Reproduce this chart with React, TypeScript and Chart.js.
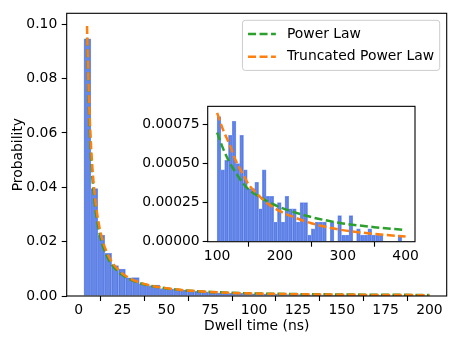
import React, { useEffect, useRef } from "react";
import { Chart, registerables } from "chart.js";
Chart.register(...registerables);

const FONT = "'DejaVu Sans', sans-serif";
const FS = 13.9;
const GREEN = "#2ca02c";
const ORANGE = "#ff7f0e";
const BAR_FILL = "rgba(65,105,225,0.8)";
const BAR_EDGE = "rgba(128,158,238,1)";

// ---------- main histogram ----------
const MAIN_BIN_START = 3;
const MAIN_BIN_WIDTH = 3.94;
const mainBarValues = [
  0.0946, 0.0395, 0.0223, 0.0157, 0.0112, 0.0099, 0.0067, 0.0068, 0.0045, 0.0038,
  0.004, 0.0027, 0.0026, 0.0024, 0.0022, 0.002, 0.0017, 0.0015, 0.0013, 0.0012,
  0.0011, 0.001, 0.001, 0.0008, 0.0008, 0.0007, 0.0007, 0.0006, 0.0006, 0.0005,
  0.0006, 0.0005, 0.0004, 0.0005, 0.0004, 0.0004, 0.0003, 0.0004, 0.0003, 0.0003,
  0.0003, 0.0002, 0.0003, 0.0002, 0.0002, 0.0003, 0.0002, 0.0002, 0.0002, 0.0002,
];
const mainCurveX = [4.75, 5, 6, 7, 8, 9, 10, 12, 14, 16, 18, 20, 25, 30, 35, 40, 50, 60, 75, 100, 125, 150, 175, 200];
const mainPowerLaw = [
  0.095, 0.088, 0.066, 0.0515, 0.0418, 0.035, 0.0298, 0.0226, 0.018, 0.0148, 0.0124, 0.0106,
  0.0077, 0.0059, 0.0047, 0.0039, 0.0028, 0.0021, 0.0015, 0.00095, 0.0007, 0.00055, 0.00045, 0.00037,
];
const mainTruncated = [
  0.0993, 0.0919, 0.0699, 0.0555, 0.0454, 0.0381, 0.0325, 0.0247, 0.0196, 0.0161, 0.01346, 0.0115,
  0.0082, 0.0062, 0.0049, 0.004, 0.0029, 0.0021, 0.0015, 0.0009, 0.00065, 0.00048, 0.00037, 0.0003,
];
const mainXTicks = [0, 25, 50, 75, 100, 125, 150, 175, 200];
const mainYTicks = [0, 0.02, 0.04, 0.06, 0.08, 0.1];

// ---------- inset histogram ----------
const INSET_BIN_START = 100;
const INSET_BIN_WIDTH = 6;
const insetBarValues = [
  0.0008, 0.00046, 0.00052, 0.00068, 0.00077, 0.0005, 0.00068, 0.00046, 0.00034, 0.00034,
  0.00038, 0.00021, 0.00046, 0.00029, 0.00029, 0.000125, 0.00025, 0.000125, 0.00029, 0.00021,
  0.00021, 0.000125, 0.00025, 0.00025, 0.000042, 0.000083, 0.000125, 0.000125, 0.000125, 0,
  0.000125, 0, 0.000167, 0.000042, 0.000042, 0.000167, 0, 0.000083, 0.000042, 0.000042,
  0.000083, 0.000042, 0.000042, 0.000042, 0, 0, 0, 0, 0.000042, 0,
];
const insetCurveX = [100, 110, 120, 130, 140, 150, 160, 170, 180, 200, 220, 250, 275, 300, 350, 400];
const insetPowerLaw = [
  0.000698, 0.00059, 0.000505, 0.00044, 0.00038, 0.000334, 0.000305, 0.00028, 0.000258, 0.00022,
  0.000192, 0.000157, 0.000135, 0.000117, 0.000093, 0.000075,
];
const insetTruncated = [
  0.000823, 0.00071, 0.00062, 0.000515, 0.00044, 0.000367, 0.00032, 0.00028, 0.000245, 0.000195,
  0.00016, 0.000118, 0.000093, 0.000074, 0.00005, 0.000033,
];
const insetXTicks = [100, 200, 300, 400];
const insetYTicks = [0, 0.00025, 0.0005, 0.00075];

const legendLabels = ["Power Law", "Truncated Power Law"];
const legendColors = [GREEN, ORANGE];

const font = { family: FONT, size: FS };

const framePlugin = {
  id: "mplFrame",
  beforeDraw(chart: any) {
    const opts = chart.options.plugins.mplFrame || {};
    if (opts.fillWhite) {
      const { ctx, chartArea: a } = chart;
      ctx.save();
      ctx.fillStyle = "#ffffff";
      ctx.fillRect(a.left, a.top, a.right - a.left, a.bottom - a.top);
      ctx.restore();
    }
  },
  afterDraw(chart: any) {
    const { ctx, chartArea: a } = chart;
    ctx.save();
    ctx.strokeStyle = "#000";
    ctx.lineWidth = 1.1;
    ctx.strokeRect(a.left, a.top, a.right - a.left, a.bottom - a.top);
    ctx.restore();
  },
};

const legendPlugin = {
  id: "mplLegend",
  afterDraw(chart: any) {
    const opts = chart.options.plugins.mplLegend || {};
    if (!opts.show) return;
    const { ctx, chartArea: a } = chart;
    ctx.save();
    ctx.font = `${FS}px ${FONT}`;
    const textW = Math.max(...legendLabels.map((l) => ctx.measureText(l).width));
    const pad = 5.6, rowH = 16, gap = 6.9, hLen = 27.8, hPad = 11.1;
    const w = pad * 2 + hLen + hPad + textW;
    const h = pad * 2 + rowH * 2 + gap;
    const right = a.right - 7;
    const top = a.top + 7;
    const left = right - w;
    const r = 2.8;
    ctx.beginPath();
    ctx.moveTo(left + r, top);
    ctx.lineTo(right - r, top);
    ctx.quadraticCurveTo(right, top, right, top + r);
    ctx.lineTo(right, top + h - r);
    ctx.quadraticCurveTo(right, top + h, right - r, top + h);
    ctx.lineTo(left + r, top + h);
    ctx.quadraticCurveTo(left, top + h, left, top + h - r);
    ctx.lineTo(left, top + r);
    ctx.quadraticCurveTo(left, top, left + r, top);
    ctx.closePath();
    ctx.fillStyle = "rgba(255,255,255,0.8)";
    ctx.fill();
    ctx.strokeStyle = "#cccccc";
    ctx.lineWidth = 1;
    ctx.stroke();
    legendLabels.forEach((label, i) => {
      const cy = top + pad + rowH / 2 + i * (rowH + gap);
      ctx.beginPath();
      ctx.setLineDash([8, 3.5]);
      ctx.strokeStyle = legendColors[i];
      ctx.lineWidth = 2.5;
      ctx.moveTo(left + pad, cy);
      ctx.lineTo(left + pad + hLen, cy);
      ctx.stroke();
      ctx.setLineDash([]);
      ctx.fillStyle = "#000";
      ctx.textBaseline = "middle";
      ctx.textAlign = "left";
      ctx.fillText(label, left + pad + hLen + hPad, cy);
    });
    ctx.restore();
  },
};

function axisGrid() {
  return {
    display: true,
    drawOnChartArea: false,
    drawTicks: true,
    tickLength: 5,
    tickWidth: 1.1,
    tickColor: "#000",
  };
}

function makeData(
  start: number,
  width: number,
  bars: number[],
  cx: number[],
  pl: number[],
  tpl: number[]
) {
  return {
    datasets: [
      {
        type: "bar" as const,
        data: bars.map((v, i) => ({ x: start + width * (i + 0.5), y: v })),
        backgroundColor: BAR_FILL,
        borderColor: BAR_EDGE,
        borderWidth: 0.8,
        barPercentage: 1,
        categoryPercentage: 1,
        order: 3,
      },
      {
        type: "line" as const,
        label: legendLabels[0],
        data: cx.map((x, i) => ({ x, y: pl[i] })),
        borderColor: GREEN,
        borderWidth: 2.5,
        borderDash: [8, 3.5],
        pointRadius: 0,
        fill: false,
        cubicInterpolationMode: "monotone" as const,
        order: 2,
      },
      {
        type: "line" as const,
        label: legendLabels[1],
        data: cx.map((x, i) => ({ x, y: tpl[i] })),
        borderColor: ORANGE,
        borderWidth: 2.5,
        borderDash: [8, 3.5],
        pointRadius: 0,
        fill: false,
        cubicInterpolationMode: "monotone" as const,
        order: 1,
      },
    ],
  };
}

export default function App() {
  const mainRef = useRef<HTMLCanvasElement>(null);
  const insetRef = useRef<HTMLCanvasElement>(null);

  useEffect(() => {
    const main = new Chart(mainRef.current as HTMLCanvasElement, {
      type: "bar",
      data: makeData(MAIN_BIN_START, MAIN_BIN_WIDTH, mainBarValues, mainCurveX, mainPowerLaw, mainTruncated) as any,
      plugins: [framePlugin, legendPlugin],
      options: {
        animation: false,
        responsive: false,
        maintainAspectRatio: false,
        events: [],
        layout: { padding: { top: 13.3, right: 14.3, left: 0, bottom: 0 } },
        plugins: {
          legend: { display: false },
          tooltip: { enabled: false },
          mplLegend: { show: true },
          mplFrame: { fillWhite: false },
        } as any,
        scales: {
          x: {
            type: "linear",
            min: -6.85,
            max: 209.85,
            offset: false,
            grid: axisGrid(),
            border: { display: false },
            ticks: {
              font,
              color: "#000",
              padding: 1,
              maxRotation: 0,
              autoSkip: false,
              callback: (v: any) => String(v),
            },
            afterBuildTicks: (s: any) => {
              s.ticks = mainXTicks.map((v) => ({ value: v }));
            },
            afterFit: (s: any) => {
              s.height = 50;
            },
            title: {
              display: true,
              text: "Dwell time (ns)",
              font,
              color: "#000",
              padding: { top: 0, bottom: 11.5 },
            },
          },
          y: {
            type: "linear",
            min: 0,
            max: 0.104,
            grid: axisGrid(),
            border: { display: false },
            ticks: {
              font,
              color: "#000",
              padding: 4.4,
              autoSkip: false,
              callback: (v: any) => Number(v).toFixed(2),
            },
            afterBuildTicks: (s: any) => {
              s.ticks = mainYTicks.map((v) => ({ value: v }));
            },
            afterFit: (s: any) => {
              s.width = 66.7;
            },
            title: {
              display: true,
              text: "Probability",
              font,
              color: "#000",
              padding: { top: 9.9, bottom: 0 },
            },
          },
        },
      } as any,
    });

    const inset = new Chart(insetRef.current as HTMLCanvasElement, {
      type: "bar",
      data: makeData(INSET_BIN_START, INSET_BIN_WIDTH, insetBarValues, insetCurveX, insetPowerLaw, insetTruncated) as any,
      plugins: [framePlugin],
      options: {
        animation: false,
        responsive: false,
        maintainAspectRatio: false,
        events: [],
        layout: { padding: { top: 9, right: 15, left: 0, bottom: 0 } },
        plugins: {
          legend: { display: false },
          tooltip: { enabled: false },
          mplFrame: { fillWhite: true },
        } as any,
        scales: {
          x: {
            type: "linear",
            min: 85,
            max: 415,
            offset: false,
            grid: axisGrid(),
            border: { display: false },
            ticks: {
              font,
              color: "#000",
              padding: 1,
              maxRotation: 0,
              autoSkip: false,
              callback: (v: any) => String(v),
            },
            afterBuildTicks: (s: any) => {
              s.ticks = insetXTicks.map((v) => ({ value: v }));
            },
            afterFit: (s: any) => {
              s.height = 33.3;
            },
          },
          y: {
            type: "linear",
            min: 0,
            max: 0.000865,
            grid: axisGrid(),
            border: { display: false },
            ticks: {
              font,
              color: "#000",
              padding: 3,
              autoSkip: false,
              callback: (v: any) => Number(v).toFixed(5),
            },
            afterBuildTicks: (s: any) => {
              s.ticks = insetYTicks.map((v) => ({ value: v }));
            },
            afterFit: (s: any) => {
              s.width = 77.7;
            },
          },
        },
      } as any,
    });

    return () => {
      main.destroy();
      inset.destroy();
    };
  }, []);

  return (
    <div style={{ position: "absolute", left: 0, top: 0, width: 461, height: 346, background: "#fff" }}>
      <canvas
        ref={mainRef}
        width={461}
        height={346}
        style={{ position: "absolute", left: 0, top: 0, width: 461, height: 346, display: "block" }}
      />
      <canvas
        ref={insetRef}
        width={300}
        height={180}
        style={{ position: "absolute", left: 130, top: 95, width: 300, height: 180, display: "block" }}
      />
    </div>
  );
}
